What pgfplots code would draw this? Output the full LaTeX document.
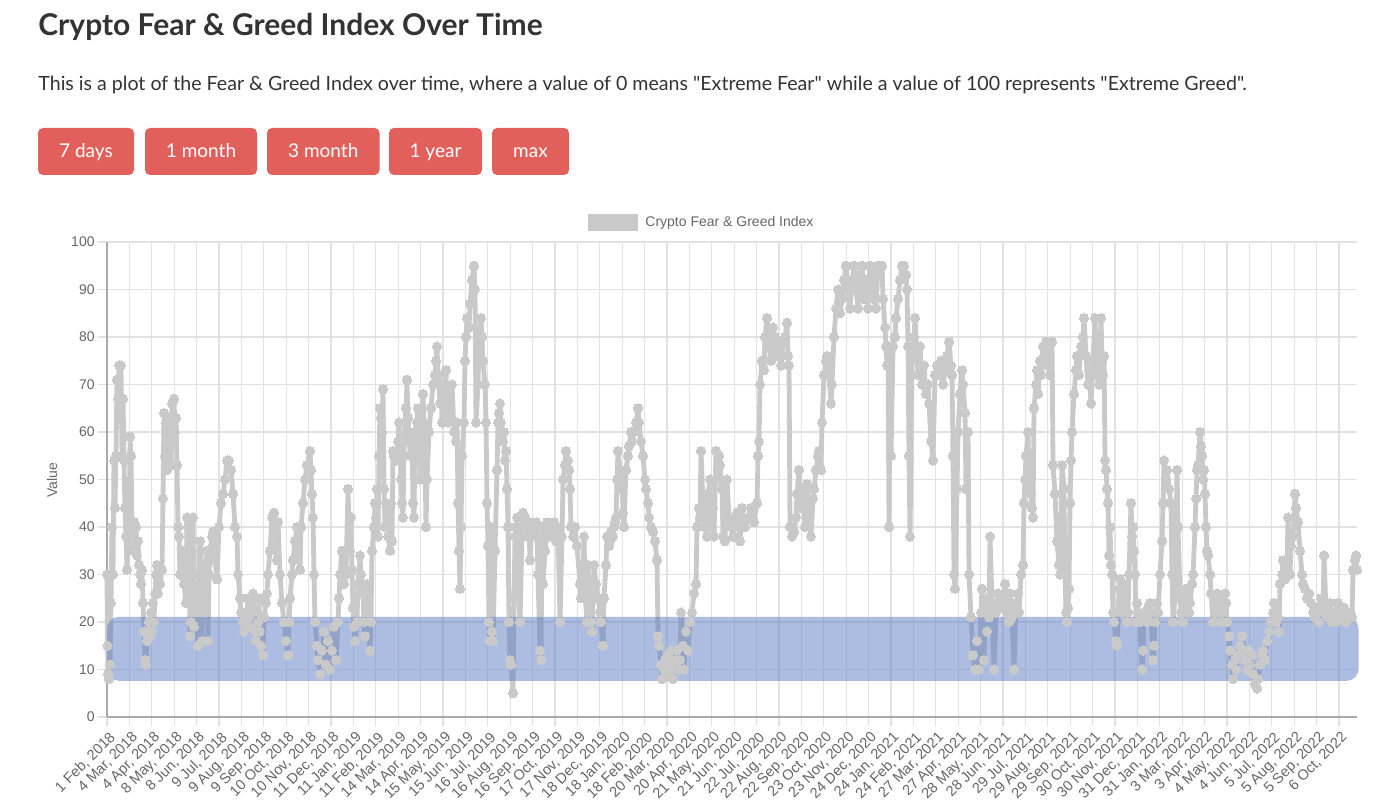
\documentclass[border=0pt]{standalone}
\usepackage{pgfplots}
\usepackage{pgfplotstable}
\pgfplotsset{compat=1.18}
\usepackage{fontspec}
\setmainfont{Lato}[Ligatures=TeXOff]
\newfontfamily\chartfont{Liberation Sans}

\definecolor{txt}{RGB}{51,51,51}
\definecolor{btn}{RGB}{226,96,92}
\definecolor{series}{RGB}{201,201,201}
\definecolor{band}{RGB}{93,123,197}
\definecolor{gridc}{RGB}{226,226,226}
\definecolor{axisc}{RGB}{170,170,170}
\definecolor{ticktext}{RGB}{102,102,102}

% Daily index values; x is the horizontal position along the time axis
\pgfplotstableread{
x y
107 30
107.5 15
108 9
109 8
110 11
111 24
112 40
113 30
114 54
115 44
116 55
117 71
118 67
119 74
120 63
121 74
122 55
123 67
124 54
125 44
126 38
127 31
128 40
129 35
130 59
131 55
132 40
133 38
134 41
135 36
136 40
137 34
138 37
139 32
140 30
141 28
142 31
143 24
144 18
145 12
146 11
147 16
148 18
149 20
150 17
151 22
152 18
153 24
154 20
155 26
156 30
157 32
158 26
160 28
162 31
163 46
164 64
165 55
166 62
167 52
168 60
169 54
170 63
171 53
172 66
173 57
174 67
175 60
176 63
177 53
178 40
179 38
180 30
182 35
184 28
186 24
187 42
188 40
189 38
190 17
191 20
192 35
193 42
194 19
196 25
198 15
199 30
200 37
201 35
202 16
203 25
205 28
207 35
208 16
209 30
210 35
212 38
213 39
215 33
217 29
219 40
221 45
223 47
225 50
227 54
229 54
231 52
233 47
235 40
237 38
238 30
240 25
241 22
243 20
244 18
245 22
246 19
248 25
249 21
250 19
252 23
253 26
255 18
256 16
258 20
259 25
260 18
261 15
263 13
264 21
266 24
267 26
268 30
270 35
272 42
274 43
275 40
276 36
277 33
278 41
280 30
282 24
284 20
286 16
288 13
289 20
290 25
292 30
293 33
295 37
297 40
298 34
300 31
301 40
303 45
305 50
307 53
310 56
311 52
312 47
313 42
314 30
315 20
317 15
318 12
320 9
322 14
324 18
326 11
328 16
330 10
332 14
334 19
336 12
338 20
339 25
340 30
342 35
344 28
346 30
348 48
350 35
351 42
352 31
353 23
354 19
355 16
357 20
358 28
360 34
361 30
363 26
364 20
365 17
366 24
367 28
368 22
370 14
371 20
372 35
374 40
375 45
376 42
377 48
378 38
379 55
380 65
381 63
382 60
383 69
384 48
385 40
386 45
388 38
390 35
391 45
392 37
393 56
394 55
396 54
397 55
398 58
399 62
400 55
401 50
402 45
403 42
404 58
405 62
406 65
407 71
408 63
409 60
410 55
412 58
413 45
414 42
415 60
417 62
418 65
420 50
421 60
423 68
424 62
425 55
426 40
427 50
429 60
431 65
433 70
435 72
436 75
437 78
438 72
440 66
441 70
442 62
444 68
446 73
447 65
448 62
450 66
452 70
454 60
456 58
457 62
458 45
459 35
460 27
461 40
462 55
464 62
465 75
466 80
467 84
469 82
470 87
472 92
474 95
475 90
476 62
478 70
479 78
481 84
482 80
483 75
485 70
486 62
487 45
488 36
489 20
490 16
491 40
492 18
493 16
495 35
497 52
498 62
499 64
500 66
501 62
503 58
504 60
505 54
506 56
507 48
508 40
509 20
510 12
511 11
513 5
514 25
515 38
516 40
517 42
518 30
520 20
522 38
523 43
525 42
527 40
528 38
529 41
530 33
532 40
534 39
536 41
537 38
538 30
540 14
541 12
542 40
543 28
545 35
547 41
549 38
550 40
552 39
554 41
556 37
558 40
560 20
562 38
563 50
565 53
566 56
568 54
569 52
570 48
571 40
573 38
575 40
577 36
580 28
581 25
583 30
584 38
585 26
587 20
588 32
590 25
591 20
592 18
594 32
596 28
598 25
600 22
601 20
603 15
604 25
606 32
607 38
609 36
610 37
611 39
613 38
614 40
615 41
616 42
617 50
618 56
620 52
621 48
622 50
623 43
624 40
626 52
628 55
629 57
631 60
632 58
634 60
636 62
638 65
639 62
641 58
643 55
645 50
646 48
648 45
649 42
651 40
653 39
655 37
657 33
658 17
659 15
661 11
662 8
664 10
665 12
667 9
668 13
670 11
671 14
673 8
674 10
676 12
677 14
679 10
680 12
681 22
683 15
684 10
686 18
688 14
690 20
692 22
694 26
696 28
697 40
699 44
700 42
701 56
703 45
705 40
707 38
708 47
710 50
711 40
713 44
714 38
716 56
717 50
719 55
720 53
722 48
723 38
725 37
727 50
729 42
731 40
733 38
735 42
737 43
740 37
742 44
745 40
748 42
751 44
754 41
757 45
758 55
759 58
760 70
762 75
764 73
765 80
767 84
769 78
771 75
773 82
775 80
777 76
779 78
781 74
783 79
785 80
787 83
788 76
789 74
790 40
792 38
794 39
796 42
797 47
799 52
801 44
803 48
805 40
807 49
809 42
811 38
813 46
814 48
816 52
818 55
819 56
821 52
822 62
824 72
826 75
827 76
829 72
831 66
832 70
834 80
836 86
838 90
840 85
842 88
844 92
846 95
848 90
850 86
852 92
854 95
856 90
858 86
860 93
862 95
864 88
866 92
868 86
870 95
872 94
874 88
876 86
878 95
880 93
882 95
883 88
885 82
886 78
887 74
888 78
889 40
890 75
891 55
893 78
895 80
896 84
898 88
900 92
902 95
904 95
906 93
907 90
908 78
909 55
910 38
912 75
914 80
915 84
917 76
918 72
920 78
922 70
924 74
926 68
928 70
929 66
931 58
933 54
935 72
937 74
939 72
941 75
943 70
945 73
947 76
949 79
951 74
952 72
953 55
954 30
955 27
957 48
958 60
960 68
962 73
963 70
965 64
966 48
968 60
969 30
971 21
973 13
975 10
977 16
979 10
981 22
982 27
984 12
985 25
987 18
989 21
990 38
992 24
994 10
996 22
998 26
1000 23
1002 25
1003 24
1005 28
1007 22
1009 20
1010 26
1012 21
1014 10
1016 24
1018 26
1019 22
1021 30
1023 32
1024 45
1025 50
1026 55
1028 60
1029 48
1030 52
1031 47
1032 44
1033 42
1034 65
1036 70
1037 73
1038 68
1040 75
1041 72
1043 78
1044 76
1046 79
1048 74
1050 72
1052 79
1053 53
1055 47
1057 37
1059 32
1060 30
1062 53
1064 48
1065 30
1066 22
1067 20
1068 23
1069 27
1070 45
1071 54
1072 60
1074 68
1076 73
1077 76
1079 72
1081 78
1083 80
1084 84
1086 76
1088 70
1089 73
1091 66
1093 75
1095 84
1097 72
1099 70
1101 84
1102 75
1103 72
1104 76
1105 54
1106 52
1107 48
1108 45
1109 34
1110 40
1111 32
1112 30
1113 22
1114 20
1116 16
1117 15
1119 27
1120 29
1122 22
1124 28
1125 25
1127 20
1128 22
1129 30
1131 45
1132 38
1133 40
1134 35
1135 30
1136 20
1137 24
1138 22
1140 20
1142 10
1143 14
1144 22
1146 21
1147 20
1148 23
1150 24
1151 22
1153 12
1154 15
1155 20
1157 24
1158 22
1160 30
1162 37
1163 45
1164 54
1166 50
1167 52
1169 48
1171 45
1172 30
1173 20
1175 25
1177 52
1178 40
1180 25
1181 22
1183 20
1184 24
1186 27
1187 25
1189 22
1190 24
1192 28
1193 30
1195 40
1196 46
1197 52
1198 53
1200 60
1201 57
1202 55
1203 50
1204 52
1205 47
1206 40
1207 35
1208 34
1210 30
1211 26
1213 20
1215 22
1217 26
1218 25
1220 24
1221 20
1223 22
1225 26
1226 24
1227 20
1229 17
1230 14
1232 11
1233 8
1235 12
1236 10
1238 13
1240 15
1242 17
1244 14
1245 12
1247 10
1249 14
1250 11
1252 13
1253 9
1255 7
1257 6
1258 8
1260 11
1262 13
1263 14
1265 12
1267 16
1269 18
1271 20
1273 22
1274 24
1276 20
1278 21
1279 18
1280 28
1282 30
1283 33
1285 29
1287 31
1288 42
1290 30
1291 36
1293 38
1295 47
1296 44
1298 41
1300 35
1302 30
1303 28
1305 27
1307 25
1309 26
1311 24
1313 22
1315 21
1317 23
1319 20
1321 25
1323 22
1324 34
1326 22
1328 21
1330 24
1332 20
1334 22
1336 20
1338 24
1340 21
1342 22
1344 23
1346 20
1348 21
1350 22
1352 21
1353 31
1355 33
1356 34
1357 31
}\fgindex

\begin{document}
\begin{tikzpicture}[x=0.5pt,y=0.5pt]
\path[use as bounding box, fill=white] (0,0) rectangle (1400,812);

% page heading and description
\node[anchor=base west, inner sep=0pt, text=txt,
      font=\fontsize{15pt}{18pt}\selectfont\bfseries] at (38,776)
      {Crypto Fear \& Greed Index Over Time};
\node[anchor=base west, inner sep=0pt, text=txt,
      font=\fontsize{9.8pt}{12pt}\selectfont] at (38,721)
      {This is a plot of the Fear \& Greed Index over time, where a value of 0 means "Extreme Fear" while a value of 100 represents "Extreme Greed".};

% range buttons
\foreach \a/\b/\t in {38/134/7 days, 145/257/1 month, 267/379.5/3 month, 389/482/1 year, 492/569/max}{
  \fill[btn, rounded corners=2.5pt] (\a,637) rectangle (\b,684);
  \node[anchor=base, inner sep=0pt, text=white,
        font=\fontsize{9.5pt}{11pt}\selectfont] at ({(\a+\b)/2},654.5) {\t};
}

% legend
\fill[series] (588,581) rectangle (638,598);
\node[anchor=west, inner sep=0pt, text=ticktext,
      font=\chartfont\fontsize{7pt}{8pt}\selectfont] at (645,589.5)
      {Crypto Fear \& Greed Index};

% y axis title
\node[rotate=90, inner sep=0pt, text=ticktext,
      font=\chartfont\fontsize{7pt}{8pt}\selectfont] at (52,332) {Value};

\begin{axis}[
  at={(53.5pt,47.5pt)}, anchor=south west,
  scale only axis, width=625pt, height=237.5pt,
  xmin=107, xmax=1357, ymin=0, ymax=100,
  clip=false,
  axis lines=left,
  axis line style={-, draw=axisc, line width=0.6pt},
  grid=major,
  major grid style={draw=gridc, line width=0.6pt},
  tick align=outside,
  major tick length=4.5pt,
  tick style={draw=gridc, line width=0.6pt},
  ytick={0,10,...,100},
  xtick={107,129.4,151.8,174.2,196.6,219,241.4,263.8,286.2,308.6,331,353.4,375.8,398.2,420.6,443,465.4,487.8,510.2,532.6,555,577.4,599.8,622.2,644.6,667,689.4,711.8,734.2,756.6,779,801.4,823.8,846.2,868.6,891,913.4,935.8,958.2,980.6,1003,1025.4,1047.8,1070.2,1092.6,1115,1137.4,1159.8,1182.2,1204.6,1227,1249.4,1271.8,1294.2,1316.6,1339},
  xticklabels={{1 Feb, 2018},{4 Mar, 2018},{4 Apr, 2018},{8 May, 2018},{8 Jun, 2018},{9 Jul, 2018},{9 Aug, 2018},{9 Sep, 2018},{10 Oct, 2018},{10 Nov, 2018},{11 Dec, 2018},{11 Jan, 2019},{11 Feb, 2019},{14 Mar, 2019},{14 Apr, 2019},{15 May, 2019},{15 Jun, 2019},{16 Jul, 2019},{16 Aug, 2019},{16 Sep, 2019},{17 Oct, 2019},{17 Nov, 2019},{18 Dec, 2019},{18 Jan, 2020},{18 Feb, 2020},{20 Mar, 2020},{20 Apr, 2020},{21 May, 2020},{21 Jun, 2020},{22 Jul, 2020},{22 Aug, 2020},{22 Sep, 2020},{23 Oct, 2020},{23 Nov, 2020},{24 Dec, 2020},{24 Jan, 2021},{24 Feb, 2021},{27 Mar, 2021},{27 Apr, 2021},{28 May, 2021},{28 Jun, 2021},{29 Jul, 2021},{29 Aug, 2021},{29 Sep, 2021},{30 Oct, 2021},{30 Nov, 2021},{31 Dec, 2021},{31 Jan, 2022},{3 Mar, 2022},{3 Apr, 2022},{4 May, 2022},{4 Jun, 2022},{5 Jul, 2022},{5 Aug, 2022},{5 Sep, 2022},{6 Oct, 2022}},
  /pgf/number format/assume math mode=true,
  tick label style={font=\chartfont\fontsize{7pt}{8pt}\selectfont, text=ticktext},
  xticklabel style={rotate=45, anchor=north east, inner sep=1pt, font=\chartfont\fontsize{7.3pt}{8pt}\selectfont, yshift=-1pt},
  yticklabel style={inner sep=1.5pt},
]
\addplot[series, line width=2.4pt, line join=round,
         mark=*, mark size=2.3pt, mark options={fill=series, draw=series, line width=0pt}]
  table[x=x, y=y] {\fgindex};
% shaded fear zone
\addplot[draw=none, fill=band, fill opacity=0.5, rounded corners=6pt]
  coordinates {(107,7.6) (1358.5,7.6) (1358.5,21.1) (107,21.1)} -- cycle;
\end{axis}
\end{tikzpicture}
\end{document}
